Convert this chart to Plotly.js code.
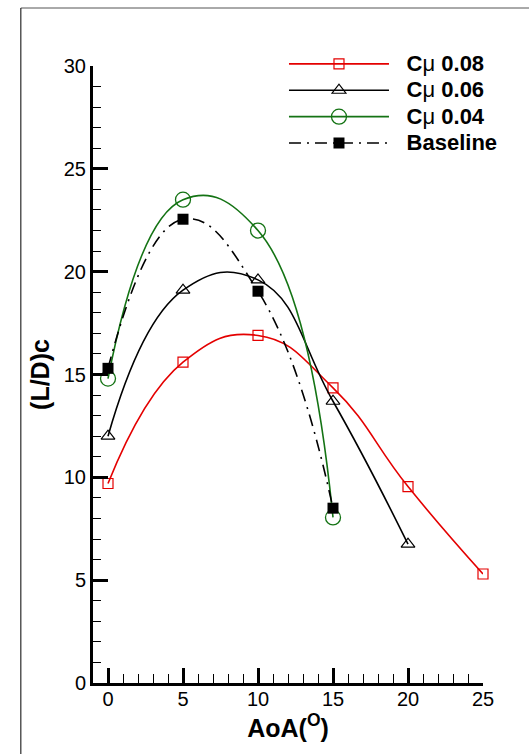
<!DOCTYPE html>
<html>
<head>
<meta charset="utf-8">
<script src="https://cdn.plot.ly/plotly-3.0.1.min.js"></script>
<style>
  html, body { margin: 0; padding: 0; background: #fff; }
  #chart { width: 529px; height: 754px; }
</style>
</head>
<body>
<div id="chart"></div>
<script>
// Angle of attack (deg) and lift-to-drag ratio for each blowing coefficient
const aoaCmu008 = [0, 5, 10, 15, 20, 25];
const ldCmu008 = [9.7, 15.6, 16.9, 14.35, 9.55, 5.3];

const aoaCmu006 = [0, 5, 10, 15, 20];
const ldCmu006 = [12.0, 19.1, 19.6, 13.7, 6.75];

const aoaCmu004 = [0, 5, 10, 15];
const ldCmu004 = [14.8, 23.5, 22.0, 8.05];

const aoaBase = [0, 5, 10, 15];
const ldBase = [15.3, 22.55, 19.05, 8.5];

// legend labels: larger glyphs than the legend row height would give,
// with a small gap to keep the text clear of the long line samples
const gap = '\u2002\u2009';
function label(t) { return gap + '<span style="font-size:22px">' + t + '</span>'; }
const mu = '<span style="font-weight:normal">μ</span>';
const seriesNames = [label('C' + mu + ' 0.08'),
                     label('C' + mu + ' 0.06'),
                     label('C' + mu + ' 0.04'),
                     label('Baseline')];

const RED = 'rgb(228,0,0)';
const GREEN = 'rgb(20,115,20)';
const BLACK = '#000';
const FONT = 'Liberation Sans, Arial, sans-serif';

function curve(x, y, name, color, dash, symbol, size, lineWidth) {
  return {
    x: x, y: y, name: name, type: 'scatter', mode: 'lines+markers',
    line: { color: color, width: 1.6, shape: 'spline', smoothing: 1.3, dash: dash },
    marker: { symbol: symbol, size: size, color: color, line: { color: color, width: lineWidth } },
    cliponaxis: false
  };
}

const traces = [
  curve(aoaCmu008, ldCmu008, seriesNames[0], RED, 'solid', 'square-open', 10, 1.2),
  curve(aoaCmu006, ldCmu006, seriesNames[1], BLACK, 'solid', 'triangle-up-open', 12, 1.2),
  curve(aoaCmu004, ldCmu004, seriesNames[2], GREEN, 'solid', 'circle-open', 15, 1.3),
  curve(aoaBase, ldBase, seriesNames[3], BLACK, '12px,6px,2px,6px', 'square', 11, 0)
];

const axisFont = { family: FONT, size: 20, color: '#000' };

const layout = {
  width: 529, height: 754,
  margin: { l: 93, r: 46, t: 66, b: 71 },
  paper_bgcolor: '#fff', plot_bgcolor: '#fff',
  showlegend: true,
  legend: {
    x: 0.4897, xanchor: 'left', y: 1.033, yanchor: 'top',
    itemwidth: 100,
    font: { family: FONT, size: 18, color: '#000', weight: 'bold' },
    bgcolor: 'rgba(0,0,0,0)', tracegroupgap: 0
  },
  xaxis: {
    range: [-1, 25], showgrid: false, zeroline: false,
    showline: true, linecolor: '#000', linewidth: 3,
    ticks: 'inside', ticklen: 15, tickwidth: 3, tickcolor: '#000',
    tickvals: [0, 5, 10, 15, 20, 25],
    minor: { ticks: 'inside', ticklen: 9, tickwidth: 1, tickcolor: '#000', dtick: 1, tick0: 0, showgrid: false },
    tickfont: axisFont, ticklabelstandoff: -4,
    title: { text: '<b>AoA(<sup>O</sup>)</b>', font: { family: FONT, size: 25, color: '#000' }, standoff: 8 }
  },
  yaxis: {
    range: [0, 30], showgrid: false, zeroline: false,
    showline: true, linecolor: '#000', linewidth: 3,
    ticks: 'inside', ticklen: 15, tickwidth: 3, tickcolor: '#000',
    tickvals: [0, 5, 10, 15, 20, 25, 30],
    minor: { ticks: 'inside', ticklen: 8, tickwidth: 1, tickcolor: '#000', dtick: 1, tick0: 0, showgrid: false },
    tickfont: axisFont,
    title: { text: '<b>(L/D)c</b>', font: { family: FONT, size: 25, color: '#000' }, standoff: 8 }
  },
  shapes: [
    // frame edges around the figure
    { type: 'line', xref: 'paper', yref: 'paper', x0: -0.185, x1: 1.2, y0: 1.094, y1: 1.094, line: { color: '#555', width: 1 } },
    { type: 'line', xref: 'paper', yref: 'paper', x0: -0.185, x1: -0.185, y0: 1.094, y1: -0.2, line: { color: '#000', width: 1 } }
  ]
};

Plotly.newPlot('chart', traces, layout, { staticPlot: true, displayModeBar: false });
</script>
</body>
</html>
